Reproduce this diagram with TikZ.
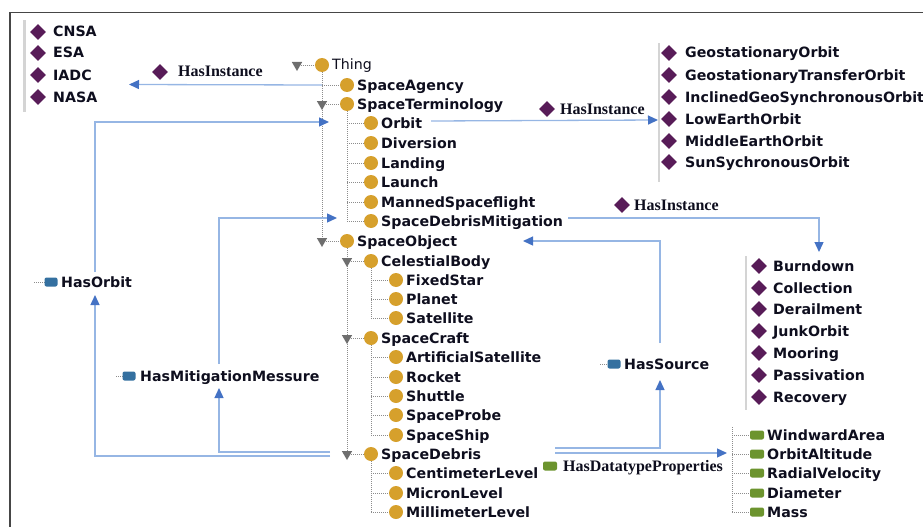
\documentclass[tikz,border=0pt]{standalone}
\usepackage{fontspec}
\setmainfont{DejaVu Sans}
\newfontfamily\relfont{Liberation Serif}
\usetikzlibrary{arrows.meta,shapes.geometric,backgrounds}

\definecolor{clsgold}{RGB}{214,160,44}
\definecolor{indpurple}{RGB}{88,28,88}
\definecolor{opblue}{RGB}{52,112,160}
\definecolor{dpgreen}{RGB}{108,148,46}
\definecolor{relline}{RGB}{150,182,228}
\definecolor{reltip}{RGB}{68,114,196}
\definecolor{inktext}{RGB}{14,14,30}
\definecolor{treegray}{RGB}{140,140,140}
\definecolor{expgray}{RGB}{110,110,110}
\definecolor{barcol}{RGB}{212,212,212}
\definecolor{framecol}{RGB}{70,70,70}

\tikzset{
  clsdot/.style={circle, fill=clsgold, minimum size=14pt, inner sep=0pt},
  expander/.style={regular polygon, regular polygon sides=3, shape border rotate=180,
    fill=expgray, minimum size=12pt, inner sep=0pt},
  indiv/.style={diamond, fill=indpurple, minimum size=16pt, inner sep=0pt},
  oprop/.style={rectangle, rounded corners=2pt, fill=opblue, minimum width=13pt,
    minimum height=9pt, inner sep=0pt},
  dprop/.style={rectangle, rounded corners=2pt, fill=dpgreen, minimum width=14pt,
    minimum height=9pt, inner sep=0pt},
  ctext/.style={anchor=base west, inner sep=0pt, text=inktext,
    font=\fontsize{14.2}{16}\selectfont\bfseries},
  reltext/.style={anchor=base west, inner sep=0pt, text=inktext,
    font=\relfont\fontsize{16}{18}\selectfont\bfseries},
  treeline/.style={draw=treegray, line width=0.7pt, dash pattern=on 1pt off 1pt},
  rel/.style={draw=relline, line width=1.3pt,
    -{Triangle[length=10pt,width=9pt,color=reltip]}},
}

% class entry: icon at (x,y), name to its right
\newcommand\clsitem[4]{%
  \node[clsdot] (#1-ic) at (#2,#3) {};
  \node[ctext] (#1) at (#2+10,#3+5) {#4};}

\begin{document}
\begin{tikzpicture}[x=1pt,y=-1pt]
\useasboundingbox (0,0) rectangle (923,527);

% panel frame
\draw[framecol, line width=1.4pt] (10,527) -- (10,12.5) -- (923,12.5);

% ---------- class hierarchy ----------
\node[clsdot] (thing-ic) at (322,65) {};
\node[ctext, font=\fontsize{14.2}{16}\selectfont] (thing) at (332,70) {Thing};
\node[expander] (thing-exp) at (297,65) {};

\clsitem{agency}{347}{85}{SpaceAgency}
\clsitem{term}{347}{104}{SpaceTerminology}
\node[expander] (term-exp) at (322,104) {};
\clsitem{orbit}{371}{123}{Orbit}
\clsitem{diversion}{371}{143}{Diversion}
\clsitem{landing}{371}{163}{Landing}
\clsitem{launch}{371}{182}{Launch}
\clsitem{manned}{371}{202}{MannedSpaceflight}
\clsitem{sdm}{371}{221}{SpaceDebrisMitigation}
\clsitem{sobj}{347}{241}{SpaceObject}
\node[expander] (sobj-exp) at (322,241) {};
\clsitem{celest}{371}{261}{CelestialBody}
\node[expander] (celest-exp) at (347,261) {};
\clsitem{fixedstar}{396}{280}{FixedStar}
\clsitem{planet}{396}{299}{Planet}
\clsitem{satellite}{396}{318}{Satellite}
\clsitem{craft}{371}{338}{SpaceCraft}
\node[expander] (craft-exp) at (347,338) {};
\clsitem{artsat}{396}{357}{ArtificialSatellite}
\clsitem{rocket}{396}{377}{Rocket}
\clsitem{shuttle}{396}{396}{Shuttle}
\clsitem{probe}{396}{415}{SpaceProbe}
\clsitem{ship}{396}{435}{SpaceShip}
\clsitem{debris}{371}{454}{SpaceDebris}
\node[expander] (debris-exp) at (347,454) {};
\clsitem{cm}{396}{473}{CentimeterLevel}
\clsitem{micron}{396}{493}{MicronLevel}
\clsitem{mm}{396}{512}{MillimeterLevel}

% ---------- individuals ----------
\fill[barcol] (22.5,20) rectangle (25.5,112);
\foreach \nm/\yy in {CNSA/32,ESA/53,IADC/75,NASA/97} {
  \node[indiv] (ag-\nm-ic) at (38,\yy) {};
  \node[ctext] (ag-\nm) at (53,\yy+5) {\nm};
}

\fill[barcol] (658.3,43) rectangle (659.8,182);
\foreach \nm/\yy in {GeostationaryOrbit/53,GeostationaryTransferOrbit/75,
    InclinedGeoSynchronousOrbit/97,LowEarthOrbit/119,MiddleEarthOrbit/141,
    SunSychronousOrbit/162} {
  \node[indiv] (or-\nm-ic) at (669,\yy) {};
  \node[ctext] (or-\nm) at (685,\yy+5) {\nm};
}

\fill[barcol] (745,256) rectangle (747,410);
\foreach \nm/\yy in {Burndown/266,Collection/288,Derailment/309,JunkOrbit/331,
    Mooring/353,Passivation/375,Recovery/397} {
  \node[indiv] (mi-\nm-ic) at (759,\yy) {};
  \node[ctext] (mi-\nm) at (773,\yy+5) {\nm};
}

% ---------- datatype properties ----------
\coordinate (dpRoot) at (732,427);
\foreach \nm/\yy in {WindwardArea/435,OrbitAltitude/454,RadialVelocity/473,
    Diameter/493,Mass/512} {
  \node[dprop] (dp-\nm-ic) at (757,\yy) {};
  \node[ctext] (dp-\nm) at (767,\yy+5) {\nm};
}

% ---------- relation labels ----------
\node[indiv] (hiA-ic) at (160,72) {};
\node[reltext] (hiA) at (178,77) {HasInstance};
\node[indiv] (hiB-ic) at (547,109) {};
\node[reltext] (hiB) at (560,114) {HasInstance};
\node[indiv] (hiC-ic) at (622,205) {};
\node[reltext] (hiC) at (634,210) {HasInstance};

\node[oprop] (hasorbit-ic) at (51,282) {};
\node[ctext] (hasorbit) at (61,287) {HasOrbit};
\node[oprop] (hasmit-ic) at (129,376) {};
\node[ctext] (hasmit) at (140,381) {HasMitigationMessure};
\node[oprop] (hassrc-ic) at (614,364) {};
\node[ctext] (hassrc) at (624,369) {HasSource};
\node[dprop] (hasdp-ic) at (550,466) {};
\node[reltext] (hasdp) at (563,471) {HasDatatypeProperties};

% ---------- tree guide lines ----------
\begin{pgfonlayer}{background}
  \draw[treeline] (thing-exp) -- (thing-ic);
  \draw[treeline] (thing-ic) -- (sobj-ic -| thing-ic);
  \foreach \c in {agency,term,sobj} \draw[treeline] (\c-ic -| thing-ic) -- (\c-ic);
  \draw[treeline] (term-ic) -- (sdm-ic -| term-ic);
  \foreach \c in {orbit,diversion,landing,launch,manned,sdm}
    \draw[treeline] (\c-ic -| term-ic) -- (\c-ic);
  \draw[treeline] (sobj-ic) -- (debris-ic -| sobj-ic);
  \foreach \c in {celest,craft,debris} \draw[treeline] (\c-ic -| sobj-ic) -- (\c-ic);
  \draw[treeline] (celest-ic) -- (satellite-ic -| celest-ic);
  \foreach \c in {fixedstar,planet,satellite}
    \draw[treeline] (\c-ic -| celest-ic) -- (\c-ic);
  \draw[treeline] (craft-ic) -- (ship-ic -| craft-ic);
  \foreach \c in {artsat,rocket,shuttle,probe,ship}
    \draw[treeline] (\c-ic -| craft-ic) -- (\c-ic);
  \draw[treeline] (debris-ic) -- (mm-ic -| debris-ic);
  \foreach \c in {cm,micron,mm}
    \draw[treeline] (\c-ic -| debris-ic) -- (\c-ic);
  \draw[treeline] (dpRoot) -- (dp-Mass-ic -| dpRoot);
  \foreach \nm in {WindwardArea,OrbitAltitude,RadialVelocity,Diameter,Mass}
    \draw[treeline] (dp-\nm-ic -| dpRoot) -- (dp-\nm-ic);
  \draw[treeline] (34,282) -- (hasorbit-ic);
  \draw[treeline] (116,376) -- (hasmit-ic);
  \draw[treeline] (600,364) -- (hassrc-ic);
\end{pgfonlayer}

% ---------- relation connectors ----------
\coordinate (agencyList) at (129,84.5);
\coordinate (orbitOut) at (431,121);
\coordinate (orbitList) at (658,120);
\coordinate (sdmOut) at (568,218);
\coordinate (mitList) at (819,252);
\coordinate (debrisW1) at (330,456);
\coordinate (debrisW2) at (330,452);
\coordinate (debrisE1) at (555,448);
\coordinate (debrisE2) at (555,453);
\coordinate (hoIn) at (95,295);
\coordinate (hoOut) at (95,272);
\coordinate (orbitIn) at (329,122);
\coordinate (hmIn) at (219,388);
\coordinate (hmOut) at (219,364);
\coordinate (sdmIn) at (337,218);
\coordinate (hsIn) at (660,380);
\coordinate (hsOut) at (660,343);
\coordinate (sobjIn) at (523,241);
\coordinate (dpList) at (727,453);

\draw[rel] (agency-ic -| thing-ic) -- (agencyList);
\draw[rel] (orbitOut) -- (orbitList);
\draw[rel] (sdmOut) -| (mitList);
\draw[rel] (debrisW1) -| (hoIn);
\draw[rel] (hoOut) |- (orbitIn);
\draw[rel] (debrisW2) -| (hmIn);
\draw[rel] (hmOut) |- (sdmIn);
\draw[rel] (debrisE1) -| (hsIn);
\draw[rel] (hsOut) |- (sobjIn);
\draw[rel] (debrisE2) -- (dpList);
\end{tikzpicture}
\end{document}
